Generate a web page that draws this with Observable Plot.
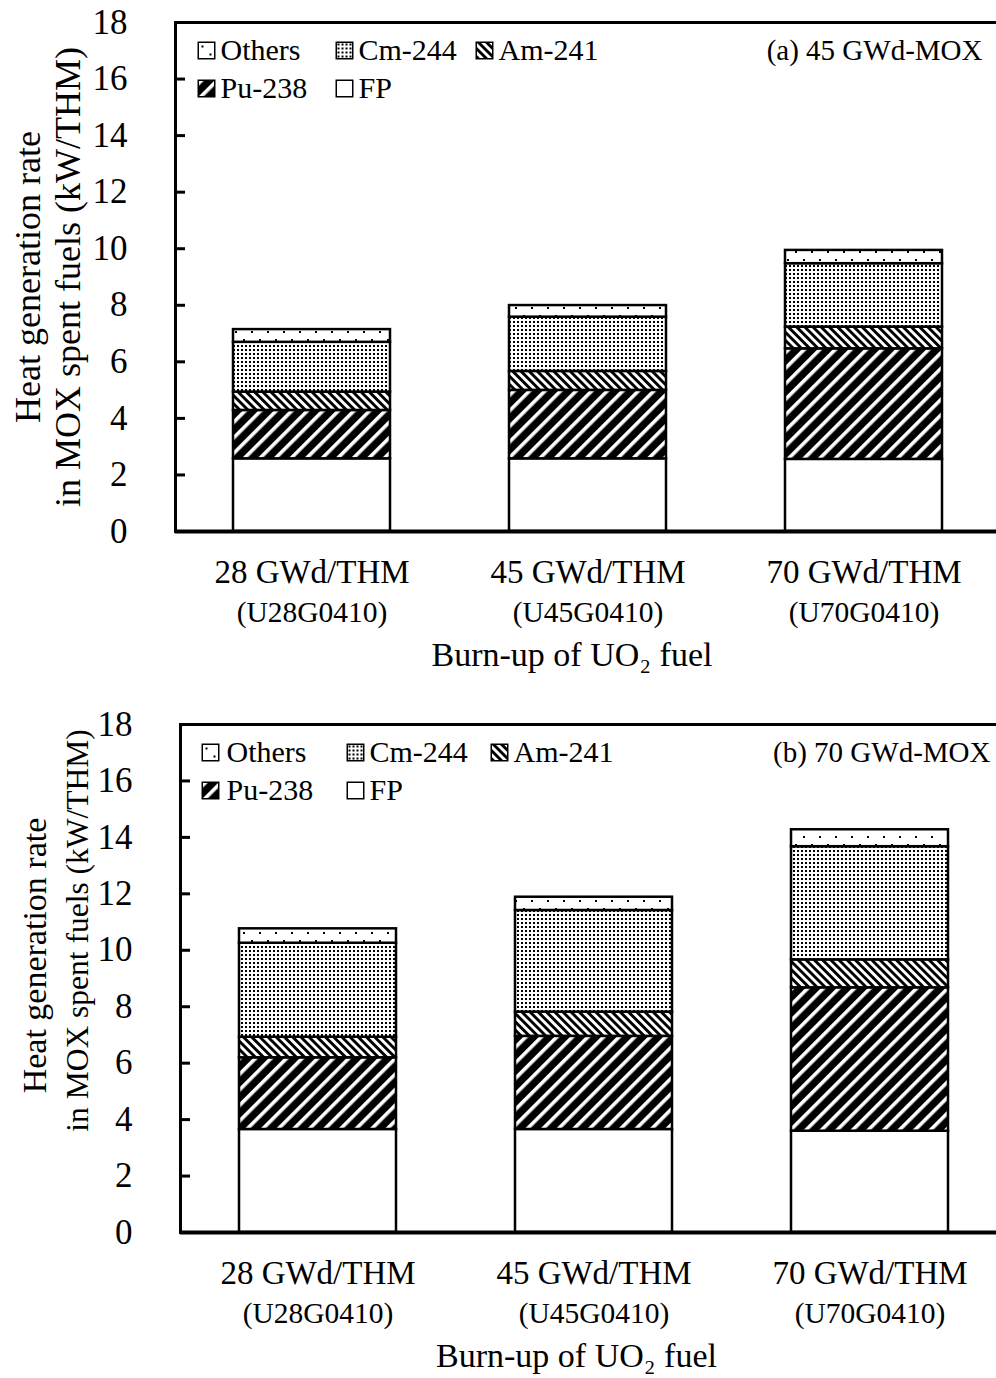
<!DOCTYPE html>
<html>
<head>
<meta charset="utf-8">
<script src="https://cdn.jsdelivr.net/npm/d3@7"></script>
<script src="https://cdn.jsdelivr.net/npm/@observablehq/plot@0.6"></script>
<style>
  html, body { margin: 0; padding: 0; background: white; overflow: hidden; }
  svg.chart { display: block; }
</style>
</head>
<body>
<svg width="0" height="0" style="position:absolute">
  <defs>
    <pattern id="pat-fp" patternUnits="userSpaceOnUse" width="8" height="8">
      <rect width="8" height="8" fill="white"/>
    </pattern>
    <pattern id="pat-pu" patternUnits="userSpaceOnUse" width="11" height="11" patternTransform="rotate(45)">
      <rect width="11" height="11" fill="black"/>
      <rect x="0" y="0" width="3.6" height="11" fill="white"/>
    </pattern>
    <pattern id="pat-am" patternUnits="userSpaceOnUse" width="5.8" height="5.8" patternTransform="rotate(-45)">
      <rect width="5.8" height="5.8" fill="white"/>
      <rect x="0" y="0" width="2.9" height="5.8" fill="black"/>
    </pattern>
    <pattern id="pat-cm" patternUnits="userSpaceOnUse" width="4" height="4">
      <rect width="4" height="4" fill="white"/>
      <rect x="1" y="1" width="2" height="2" fill="black"/>
    </pattern>
    <pattern id="pat-oth" patternUnits="userSpaceOnUse" width="16" height="16">
      <rect width="16" height="16" fill="white"/>
      <rect x="3" y="3" width="2" height="2" fill="black"/>
      <rect x="11" y="11" width="2" height="2" fill="black"/>
    </pattern>
  </defs>
</svg>
<div id="top"></div>
<div id="bottom"></div>
<script>
// ---- data ----
const components = ["FP", "Pu-238", "Am-241", "Cm-244", "Others"];
const burnups = ["28 GWd/THM", "45 GWd/THM", "70 GWd/THM"];
const cases = ["(U28G0410)", "(U45G0410)", "(U70G0410)"];
const yTicks = [0, 2, 4, 6, 8, 10, 12, 14, 16, 18];
const legendOrder = ["Others", "Cm-244", "Am-241", "Pu-238", "FP"];
const panelA = "(a) 45 GWd-MOX";
const panelB = "(b) 70 GWd-MOX";
const xTitle = "Burn-up of UO\u2082 fuel";
const yTitle1 = "Heat generation rate";
const yTitle2 = "in MOX spent fuels (kW/THM)";

// (a) 45 GWd-MOX
const fpA = [2.57, 2.57, 2.55];
const puA = [1.71, 2.42, 3.91];
const amA = [0.65, 0.67, 0.77];
const cmA = [1.76, 1.92, 2.24];
const othA = [0.45, 0.41, 0.47];
// (b) 70 GWd-MOX
const fpB = [3.65, 3.65, 3.59];
const puB = [2.54, 3.30, 5.08];
const amB = [0.73, 0.86, 0.99];
const cmB = [3.33, 3.60, 4.01];
const othB = [0.51, 0.47, 0.60];

const patterns = ["url(#pat-fp)", "url(#pat-pu)", "url(#pat-am)", "url(#pat-cm)", "url(#pat-oth)"];

function makeChart(cfg) {
  const series = [cfg.fp, cfg.pu, cfg.am, cfg.cm, cfg.oth];
  const rows = [];
  burnups.forEach((b, i) => components.forEach((c, j) => rows.push({burnup: b, component: c, value: series[j][i]})));
  const legendMarks = [];
  legendOrder.forEach((name, i) => {
    const col = i < 3 ? i : i - 3;
    const row = i < 3 ? 0 : 1;
    legendMarks.push(Plot.dot([name], {
      frameAnchor: "top-left", dx: cfg.legBox[col], dy: cfg.legRow[row],
      symbol: "square", r: 9.3, fill: d => d, stroke: "black", strokeWidth: 1.5
    }));
    legendMarks.push(Plot.text([name], {
      frameAnchor: "top-left", dx: cfg.legText[col], dy: cfg.legRow[row],
      textAnchor: "start", lineAnchor: "middle", fontSize: cfg.legFont, fill: "black"
    }));
  });
  const svg = Plot.plot({
    width: 996,
    height: cfg.height,
    marginTop: cfg.marginTop,
    marginBottom: cfg.marginBottom,
    marginLeft: cfg.marginLeft,
    marginRight: 0,
    style: {fontFamily: "'Liberation Serif', 'Times New Roman', serif", color: "black", background: "white"},
    x: {domain: burnups, range: cfg.xRange, paddingInner: 0.43, paddingOuter: 0, axis: null},
    y: {domain: [0, 18], axis: null},
    color: {domain: components, range: patterns},
    marks: [
      Plot.barY(rows, {x: "burnup", y: "value", fill: "component", stroke: "black", strokeWidth: 2.5}),
      Plot.frame({anchor: "left", stroke: "black", strokeWidth: 3}),
      Plot.ruleY([18], {stroke: "black", strokeWidth: 3}),
      Plot.ruleY([0], {stroke: "black", strokeWidth: 4}),
      Plot.axisY(yTicks, {tickSize: -10, tickFormat: () => "", strokeWidth: 3, label: null}),
      Plot.axisY(yTicks, {tickSize: 0, tickPadding: 48, fontSize: 35, label: null}),
      Plot.text(burnups, {x: d => d, text: d => d, frameAnchor: "bottom", lineAnchor: "middle", dy: 41, fontSize: 33, fill: "black"}),
      Plot.text(burnups, {x: d => d, text: (d, i) => cases[i], frameAnchor: "bottom", lineAnchor: "middle", dy: 81, fontSize: 29.5, fill: "black"}),
      Plot.text([xTitle], {frameAnchor: "bottom", lineAnchor: "middle", textAnchor: "middle", dy: 124, dx: cfg.titleDx, fontSize: 34, fill: "black"}),
      Plot.text([yTitle1], {frameAnchor: "left", textAnchor: "middle", lineAnchor: "middle", rotate: -90, dx: cfg.y1dx, dy: cfg.y1dy, fontSize: cfg.yFont1, fill: "black"}),
      Plot.text([yTitle2], {frameAnchor: "left", textAnchor: "middle", lineAnchor: "middle", rotate: -90, dx: cfg.y2dx, dy: cfg.y2dy, fontSize: cfg.yFont2, fill: "black"}),
      Plot.text([cfg.panel], {frameAnchor: "top-right", textAnchor: "end", lineAnchor: "middle", dx: cfg.panelDx, dy: 28, fontSize: 29, fill: "black"}),
      ...legendMarks
    ]
  });
  svg.classList.add("chart");
  return svg;
}

document.getElementById("top").append(makeChart({
  fp: fpA, pu: puA, am: amA, cm: cmA, oth: othA,
  height: 689, marginTop: 22, marginBottom: 158, marginLeft: 175,
  xRange: [233, 943], panel: panelA, panelDx: -14, titleDx: -14,
  legBox: [31, 169, 309], legText: [45, 183, 323], legRow: [28, 66], legFont: 30,
  yFont1: 36, yFont2: 36, y1dx: -147, y2dx: -107, y1dy: 0, y2dy: 0
}));
document.getElementById("bottom").append(makeChart({
  fp: fpB, pu: puB, am: amB, cm: cmB, oth: othB,
  height: 689, marginTop: 35, marginBottom: 146, marginLeft: 180,
  xRange: [239, 949], panel: panelB, panelDx: -6, titleDx: -12,
  legBox: [30, 175, 319], legText: [46, 189, 333], legRow: [28, 66], legFont: 30,
  yFont1: 34, yFont2: 31.5, y1dx: -145, y2dx: -103, y1dy: -23, y2dy: -48
}));
</script>
</body>
</html>
